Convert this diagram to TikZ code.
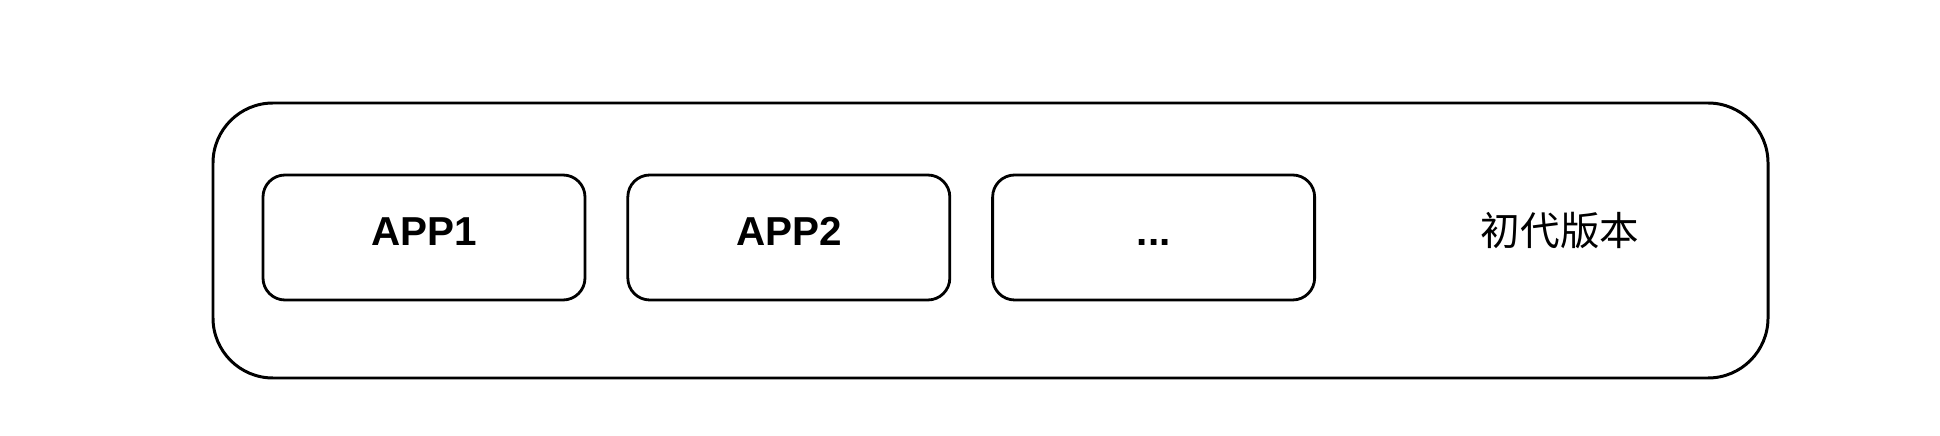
\documentclass[tikz,border=0pt]{standalone}
\usepackage{fontspec}
\setmainfont{Liberation Sans}
\newfontfamily\cjk{Noto Sans CJK SC}
\usetikzlibrary{positioning}
\tikzset{
  appbox/.style={draw,line width=1.6pt,rounded corners=0.44cm,minimum width=6.44cm,minimum height=2.5cm,
    text height=1.65ex,text depth=0pt,font=\fontsize{23}{26}\selectfont\bfseries},
  frame/.style={draw,line width=1.7pt,rounded corners=1.2cm,minimum width=31.1cm,minimum height=5.5cm}
}
\begin{document}
\begin{tikzpicture}
    \useasboundingbox (0,0) rectangle (38.8,8.72);
    \node[frame] (base) at (19.81,3.91) {};
    \node[appbox] (app1) at (8.48,3.97) {APP1};
    \node[appbox,right=0.8cm of app1] (app2) {APP2};
    \node[appbox,right=0.8cm of app2] (more) {...};
    \node[font=\cjk\fontsize{22.5}{26}\selectfont] (label) at (31.2,4.1) {初代版本};
  \end{tikzpicture}
\end{document}
